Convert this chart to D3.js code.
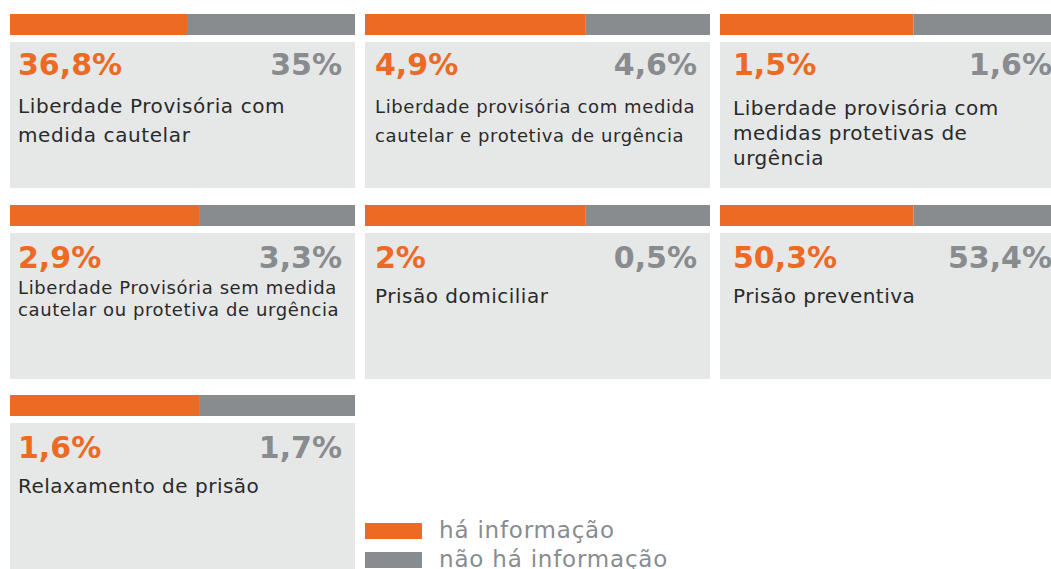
<!DOCTYPE html>
<html lang="pt-BR">
<head>
<meta charset="utf-8">
<script src="https://cdn.jsdelivr.net/npm/d3@7"></script>
<style>
  html, body { margin: 0; padding: 0; background: #ffffff; overflow: hidden; }
  svg { display: block; }
</style>
</head>
<body>
<svg id="chart" width="1051" height="569"></svg>
<script>
// Tipos de decisão nas audiências de custódia
const categories = [
  ["Liberdade Provisória com", "medida cautelar"],
  ["Liberdade provisória com medida", "cautelar e protetiva de urgência"],
  ["Liberdade provisória com", "medidas protetivas de", "urgência"],
  ["Liberdade Provisória sem medida", "cautelar ou protetiva de urgência"],
  ["Prisão domiciliar"],
  ["Prisão preventiva"],
  ["Relaxamento de prisão"]
];
// percentual quando há informação / quando não há informação
const withInfo = [36.8, 4.9, 1.5, 2.9, 2, 50.3, 1.6];
const withoutInfo = [35, 4.6, 1.6, 3.3, 0.5, 53.4, 1.7];
// fração da barra superior ocupada pela parte laranja
const barShare = [0.513, 0.64, 0.561, 0.548, 0.64, 0.561, 0.548];
const legendLabels = ["há informação", "não há informação"];

// tipografia de cada cartão: tamanho do rótulo, espaçamento e entrelinha
const labelSize = [20, 18, 20, 18, 20, 20, 20];
const labelTracking = [0.6, 0.6, 0.5, 0.6, 0.5, 0.5, 0.5];
const labelLeading = [29, 29, 25, 22, 0, 0, 0];
const labelOffset = [71, 71, 73, 61, 70, 70, 70];

const ORANGE = "#EC6A24";
const GREY = "#898C8F";
const CARD = "#E6E7E7";
const TEXT = "#2A2A2A";

const svg = d3.select("#chart");

const ptBR = d3.formatLocale({ decimal: ",", thousands: ".", grouping: [3], currency: ["R$", ""] });
const fmt = v => ptBR.format(".1~f")(v) + "%";

const cols = 3, cardW = 345, gap = 10;
const colX = d3.scaleLinear().domain([0, 1]).range([10, 10 + cardW + gap]);
const rowY = d3.scaleOrdinal().domain([0, 1, 2]).range([14, 205, 395]);
const barH = 21, cardTop = 28, cardH = 146;

const cells = categories.map((lines, i) => ({
  i, lines,
  col: i % cols,
  row: Math.floor(i / cols),
  a: withInfo[i], b: withoutInfo[i], share: barShare[i]
}));

const g = svg.selectAll("g.cell").data(cells).join("g")
  .attr("class", "cell")
  .attr("transform", d => `translate(${colX(d.col)},${rowY(d.row)})`);

const x = d3.scaleLinear().domain([0, 1]).range([0, cardW]);

// barra superior: parte laranja e parte cinza
g.append("rect")
  .attr("x", x(0)).attr("y", 0)
  .attr("width", d => x(d.share) - x(0)).attr("height", barH)
  .attr("fill", ORANGE);
g.append("rect")
  .attr("x", d => x(d.share)).attr("y", 0)
  .attr("width", d => x(1) - x(d.share)).attr("height", barH)
  .attr("fill", GREY);

// fundo do cartão
g.append("rect")
  .attr("x", 0).attr("y", cardTop)
  .attr("width", cardW).attr("height", cardH)
  .attr("fill", CARD);

const pad = d => d.col === 0 ? 8 : (d.col === 1 ? 10 : 13);

g.append("text")
  .attr("x", d => pad(d)).attr("y", d => cardTop + (d.row === 0 ? 33 : 35))
  .attr("font-family", "'DejaVu Sans', sans-serif")
  .attr("font-weight", 700).attr("font-size", 30)
  .attr("fill", ORANGE)
  .text(d => fmt(d.a));

g.append("text")
  .attr("x", cardW - 13).attr("y", d => cardTop + (d.row === 0 ? 33 : 35))
  .attr("text-anchor", "end")
  .attr("font-family", "'DejaVu Sans', sans-serif")
  .attr("font-weight", 700).attr("font-size", 30)
  .attr("fill", GREY)
  .text(d => fmt(d.b));

g.append("text")
  .attr("font-family", "'DejaVu Sans', sans-serif")
  .attr("font-size", d => labelSize[d.i])
  .attr("letter-spacing", d => labelTracking[d.i])
  .attr("fill", TEXT)
  .selectAll("tspan").data(d => d.lines.map((t, k) => ({ t, k, d }))).join("tspan")
  .attr("x", e => pad(e.d))
  .attr("y", e => cardTop + labelOffset[e.d.i] + e.k * labelLeading[e.d.i])
  .text(e => e.t);

// legenda
const legend = svg.append("g").attr("transform", "translate(365,523)");
const lg = legend.selectAll("g").data(legendLabels).join("g")
  .attr("transform", (d, k) => `translate(0,${k * 29})`);
lg.append("rect").attr("width", 57).attr("height", 16)
  .attr("fill", (d, k) => k === 0 ? ORANGE : GREY);
lg.append("text").attr("x", 74).attr("y", 15)
  .attr("font-family", "'DejaVu Sans', sans-serif")
  .attr("font-size", 23).attr("letter-spacing", 0.8).attr("fill", GREY)
  .text(d => d);
</script>
</body>
</html>
